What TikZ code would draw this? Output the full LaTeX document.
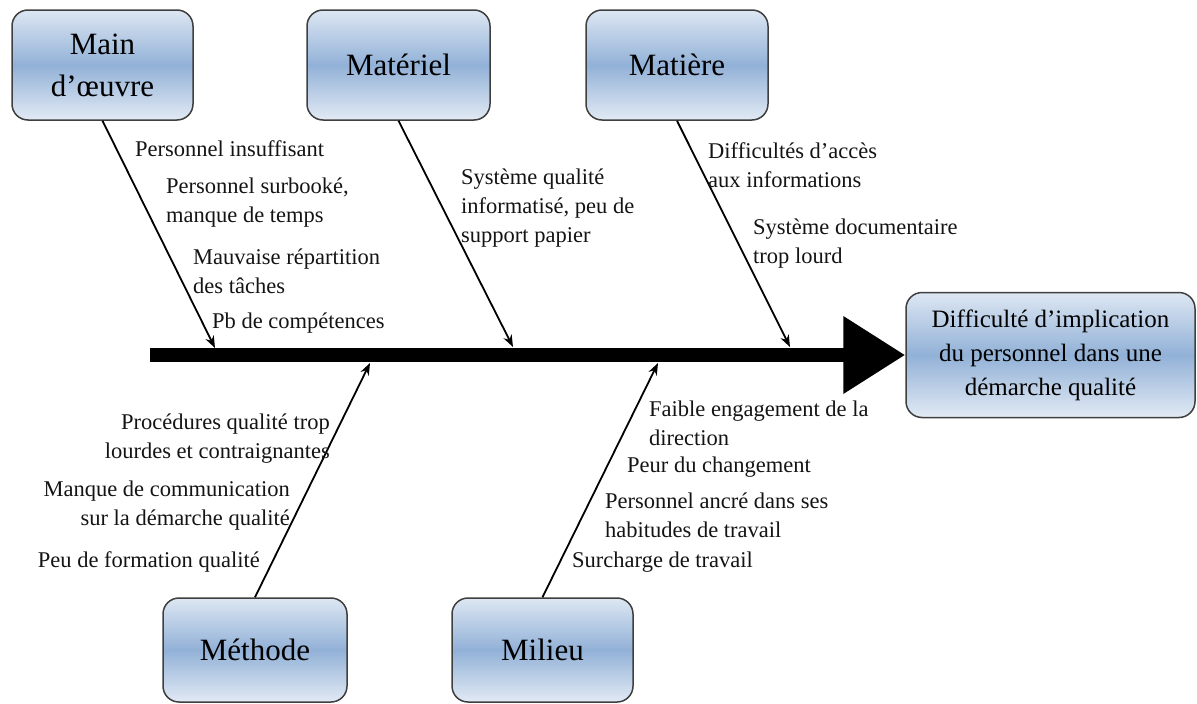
\documentclass[tikz,border=0pt]{standalone}
\usepackage{fontspec}
\setmainfont{Liberation Serif}
\usetikzlibrary{arrows.meta}
\definecolor{boxtop}{HTML}{DDE7F3}
\definecolor{boxmid}{HTML}{92B1D7}
\definecolor{boxbot}{HTML}{E2EAF4}
\definecolor{boxline}{HTML}{3F3F3F}
\definecolor{txt}{HTML}{141414}
\begin{document}
\begin{tikzpicture}[x=1pt,y=-1pt,
  cat/.style={draw=boxline, line width=1.5pt, rounded corners=16pt,
    top color=boxtop, bottom color=boxbot, middle color=boxmid,
    inner sep=0pt, align=center, text=black,
    font=\fontsize{31}{42}\selectfont},
  cause/.style={font=\fontsize{22.5}{29}\selectfont, text=txt, inner sep=0pt},
  bone/.style={line width=1.8pt, -{Stealth[length=12pt,width=9pt]}},
]
\useasboundingbox (0,0) rectangle (1197,704);

% category boxes
\node[cat, minimum width=181pt, minimum height=110pt] (main) at (102.5,65) {Main\\d’œuvre};
\node[cat, minimum width=183pt, minimum height=110pt] (materiel) at (398.5,65) {Matériel};
\node[cat, minimum width=182pt, minimum height=110pt] (matiere) at (677,65) {Matière};
\node[cat, minimum width=184pt, minimum height=104pt] (methode) at (255,650) {Méthode};
\node[cat, minimum width=181pt, minimum height=104pt] (milieu) at (542.5,650) {Milieu};

% effect box
\node[cat, minimum width=289pt, minimum height=125pt,
  font=\fontsize{25}{34}\selectfont] (effect) at (1050.5,355)
  {Difficulté d’implication\\du personnel dans une\\démarche qualité};

% spine
\coordinate (spine) at (150,355);
\draw[line width=14pt, -{Triangle[length=62pt,width=74pt]}] (spine) -- (spine -| effect.west);

% bone ends on the spine
\coordinate (b1) at (215,348);
\coordinate (b2) at (513,347);
\coordinate (b3) at (790,347);
\coordinate (b4) at (370,363);
\coordinate (b5) at (658,363);

\draw[bone] (main.south) -- (b1);
\draw[bone] (materiel.south) -- (b2);
\draw[bone] (matiere.south) -- (b3);
\draw[bone] (methode.north) -- (b4);
\draw[bone] (milieu.north) -- (b5);

% causes (multi-line nodes sit on the baseline of their last line)
% Main d'oeuvre
\node[cause, anchor=base west] (c11) at (135,156) {Personnel insuffisant};
\node[cause, anchor=base west, align=left] (c12) at (166,222) {Personnel surbooké,\\manque de temps};
\node[cause, anchor=base west, align=left] (c13) at (193,293) {Mauvaise répartition\\des tâches};
\node[cause, anchor=base west] (c14) at (212,328) {Pb de compétences};

% Materiel
\node[cause, anchor=base west, align=left] (c21) at (461,242) {Système qualité\\informatisé, peu de\\support papier};

% Matiere
\node[cause, anchor=base west, align=left] (c31) at (708,187) {Difficultés d’accès\\aux informations};
\node[cause, anchor=base west, align=left] (c32) at (753,263) {Système documentaire\\trop lourd};

% Methode
\node[cause, anchor=base east, align=right] (c41) at (330,458) {Procédures qualité trop\\lourdes et contraignantes};
\node[cause, anchor=base east, align=right] (c42) at (290,525) {Manque de communication\\sur la démarche qualité};
\node[cause, anchor=base east] (c43) at (260,567) {Peu de formation qualité};

% Milieu
\node[cause, anchor=base west, align=left] (c51) at (649,445) {Faible engagement de la\\direction};
\node[cause, anchor=base west] (c52) at (627,472) {Peur du changement};
\node[cause, anchor=base west, align=left] (c53) at (605,537) {Personnel ancré dans ses\\habitudes de travail};
\node[cause, anchor=base west] (c54) at (572,567) {Surcharge de travail};
\end{tikzpicture}
\end{document}
